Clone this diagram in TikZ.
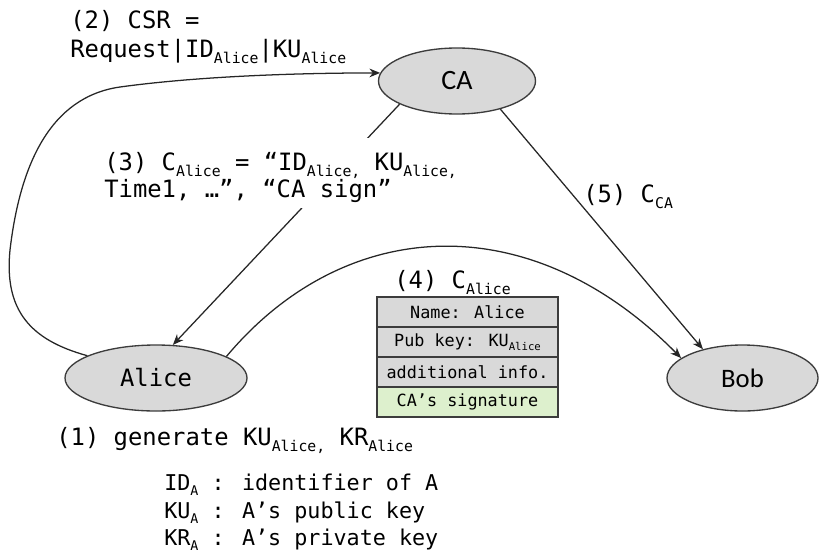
\documentclass[tikz,border=0pt]{standalone}
\usepackage{fontspec}
\setmainfont{DejaVu Sans Mono}
\newfontfamily\carl{Carlito}
\usetikzlibrary{arrows.meta,shapes.geometric,calc}

\definecolor{nodegray}{RGB}{217,217,217}
\definecolor{siggreen}{RGB}{221,240,205}
\definecolor{rimgray}{RGB}{60,60,60}

\pgfdeclarelayer{under}
\pgfsetlayers{under,main}

% text sizes and lowered subscripts
\newcommand\bigsz{\fontsize{17.9pt}{22.5pt}\selectfont}
\newcommand\lo[1]{\raisebox{-4.5pt}{\fontsize{11.1pt}{12pt}\selectfont #1}}
\newcommand\tabsz{\fontsize{12.6pt}{15pt}\selectfont}
\newcommand\tlo[1]{\raisebox{-3pt}{\fontsize{8pt}{9pt}\selectfont #1}}
\newcommand\legsz{\fontsize{16.3pt}{20pt}\selectfont}
\newcommand\llo[1]{\raisebox{-4pt}{\fontsize{10pt}{11pt}\selectfont #1}}

\tikzset{
  party/.style={ellipse, draw=rimgray, line width=1pt, fill=nodegray,
    inner sep=0pt, minimum height=49.5pt},
  label/.style={inner sep=0pt, anchor=base west, font=\bigsz},
  field/.style={rectangle, draw=rimgray, line width=0.85pt, fill=nodegray,
    minimum width=135.75pt, minimum height=22.5pt, inner sep=0pt, font=\tabsz},
  link/.style={draw=black!85, line width=0.95pt,
    -{Stealth[length=8pt,width=6.5pt,inset=2.5pt]}},
}

\begin{document}
\begin{tikzpicture}[x=0.75pt,y=-0.75pt]
\useasboundingbox (0,0) rectangle (820,553);

% the three parties
\node[party, minimum width=117.75pt, font=\carl\fontsize{21pt}{24pt}\selectfont] (ca) at (457,81) {CA};
\node[party, minimum width=136.5pt, font=\bigsz] (alice) at (156,378) {Alice};
\node[party, minimum width=113.25pt, font=\carl\fontsize{20pt}{24pt}\selectfont] (bob) at (742.5,378) {Bob};

% step 2: certificate signing request
\node[label] (l2a) at (70,28) {(2) CSR =};
\node[label] (l2b) at (70,57) {Request|ID\lo{Alice}|KU\lo{Alice}};
\draw[link] (alice.162) .. controls (30,340) and (4,310) .. (10,250)
  .. controls (20,165) and (50,97) .. (120,87)
  .. controls (200,76) and (300,73) .. (ca.174);

% step 3: certificate returned to Alice; the label's white box masks the line
\node[label] (l3a) at (104,170) {(3) C\lo{Alice} = “ID\lo{Alice,} KU\lo{Alice,}};
\node[label] (l3b) at (104,197) {Time1, …”, “CA sign”};
\begin{pgfonlayer}{under}
  \draw[link] (ca.202) -- (alice.63);
  \fill[white] ($(l3a.north west)+(-6,-14)$) rectangle ($(l3b.south -| l3a.east)+(20,6)$);
\end{pgfonlayer}

% step 5: CA certificate to Bob
\draw[link] (ca.-33) -- (bob.144);
\node[label] (l5) at (583,202) {(5) C\lo{CA}};

% step 4: Alice's certificate to Bob
\draw[link] (alice.17) .. controls (345,215) and (530,205) .. (bob.162);
\node[label] (l4) at (394,288) {(4) C\lo{Alice}};
\node[field] (f1) at (467.5,312) {Name: Alice};
\node[field] (f2) at (467.5,342) {Pub key: KU\tlo{Alice}};
\node[field] (f3) at (467.5,372) {additional info.};
\node[field, fill=siggreen] (f4) at (467.5,402) {CA’s signature};

% step 1 and notation
\node[label] (l1) at (56,445) {(1) generate KU\lo{Alice,} KR\lo{Alice}};
\node[label, font=\legsz] (k1) at (164,490) {ID\llo{A} : identifier of A};
\node[label, font=\legsz] (k2) at (164,518) {KU\llo{A} : A’s public key};
\node[label, font=\legsz] (k3) at (164,545) {KR\llo{A} : A’s private key};
\end{tikzpicture}
\end{document}
